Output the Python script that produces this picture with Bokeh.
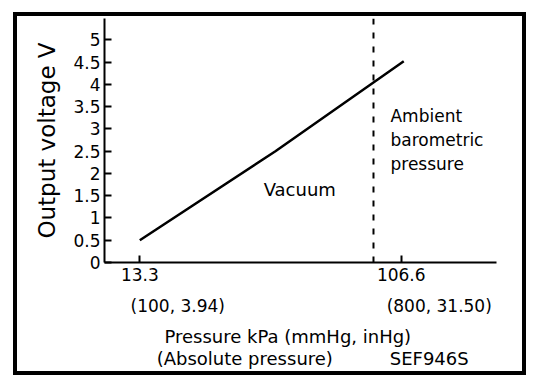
from bokeh.plotting import figure
from bokeh.layouts import column, row
from bokeh.models import Range1d, FixedTicker, Span, Label, LinearAxis, Spacer
from bokeh.embed import file_html
from bokeh.resources import INLINE

# ---- data ----
pressure_kpa = [13.3, 61.7, 107.5]
output_v = [0.5, 2.5, 4.52]

x_ticks = [13.3, 106.6]
x_tick_labels = ["13.3", "106.6"]
x_tick_sublabels = ["(100, 3.94)", "(800, 31.50)"]

y_ticks = [0, 0.5, 1, 1.5, 2, 2.5, 3, 3.5, 4, 4.5, 5]
y_tick_labels = ["0", "0.5", "1", "1.5", "2", "2.5", "3", "3.5", "4", "4.5", "5"]

ambient_kpa = 96.7
ambient_text = ["Ambient", "barometric", "pressure"]
vacuum_text = "Vacuum"
x_title = "Pressure kPa (mmHg, inHg)"
x_subtitle = "(Absolute pressure)"
y_title = "Output voltage V"
code_text = "SEF946S"

# ---- layout ----
FONT = "DejaVu Sans"
BLACK = "#000000"
W, H = 505, 355
MIN_L, MIN_R, MIN_T, MIN_B = 87, 26, 2, 109
X_START, X_END = 0.7, 140.6
Y_START, Y_END = 0, 5.48
PX_PER_KPA = (W - MIN_L - MIN_R) / (X_END - X_START)

p = figure(
    width=W, height=H,
    x_range=Range1d(X_START, X_END), y_range=Range1d(Y_START, Y_END),
    output_backend="svg", toolbar_location=None,
    min_border_left=MIN_L, min_border_right=MIN_R,
    min_border_top=MIN_T, min_border_bottom=MIN_B,
    background_fill_color="white", border_fill_color="white",
    styles={"outline": "4px solid black", "outline-offset": "0px"},
)
p.xgrid.visible = False
p.ygrid.visible = False
p.outline_line_color = None

for ax in (p.xaxis[0], p.yaxis[0]):
    ax.axis_line_color = BLACK
    ax.axis_line_width = 2
    ax.major_tick_line_color = BLACK
    ax.major_tick_line_width = 2
    ax.major_tick_in = 7
    ax.major_tick_out = 0
    ax.minor_tick_in = 0
    ax.minor_tick_out = 0
    ax.major_label_text_font = FONT
    ax.major_label_text_font_size = "17px"
    ax.major_label_text_color = BLACK

p.xaxis.ticker = FixedTicker(ticks=x_ticks)
p.xaxis.major_label_overrides = dict(zip(x_ticks, x_tick_labels))
p.xaxis.major_label_standoff = 5

p.yaxis.ticker = FixedTicker(ticks=y_ticks)
p.yaxis.major_label_overrides = dict(zip(y_ticks, y_tick_labels))
p.yaxis.major_label_standoff = 4
p.yaxis.axis_label = y_title
p.yaxis.axis_label_text_font = FONT
p.yaxis.axis_label_text_font_size = "23px"
p.yaxis.axis_label_text_font_style = "normal"
p.yaxis.axis_label_text_color = BLACK
p.yaxis.axis_label_standoff = 10


def text_row(positions, texts, size, standoff):
    """A label-only axis row below the main x axis."""
    ax = LinearAxis(ticker=FixedTicker(ticks=positions),
                    major_label_overrides=dict(zip(positions, texts)))
    ax.axis_line_color = None
    ax.major_tick_line_color = None
    ax.minor_tick_line_color = None
    ax.major_tick_in = 0
    ax.major_tick_out = 0
    ax.minor_tick_in = 0
    ax.minor_tick_out = 0
    ax.major_label_standoff = standoff
    ax.major_label_text_font = FONT
    ax.major_label_text_font_size = size
    ax.major_label_text_color = BLACK
    p.add_layout(ax, "below")


# second line of the x tick labels, e.g. "(100, 3.94)"
text_row([t + 38 / PX_PER_KPA for t in x_ticks], x_tick_sublabels, "17px", 12)
# axis title rows
text_row([x_ticks[0] + 148 / PX_PER_KPA], [x_title], "18px", 7)
text_row([x_ticks[0] + 105 / PX_PER_KPA, x_ticks[1] + 28 / PX_PER_KPA],
         [x_subtitle, code_text], "18px", -2)

# dashed ambient line
p.add_layout(Span(location=ambient_kpa, dimension="height", line_color=BLACK,
                  line_width=2, line_dash="6 8"))

# characteristic line
p.line(pressure_kpa, output_v, line_color=BLACK, line_width=2.5)


def lab(x, y, text, x_off=0, y_off=0, size="18px"):
    p.add_layout(Label(x=x, y=y, x_offset=x_off, y_offset=y_off, text=text,
                       text_align="left", text_baseline="alphabetic",
                       text_font=FONT, text_font_size=size,
                       text_color=BLACK))


lab(57.5, 1.63, vacuum_text)
for i, t in enumerate(ambient_text):
    lab(ambient_kpa, 3.28, t, x_off=17, y_off=-24 * i, size="17px")

page = column(Spacer(width=10, height=16),
              row(Spacer(width=17, height=10), p))

open("out.html", "w").write(file_html(page, INLINE))
